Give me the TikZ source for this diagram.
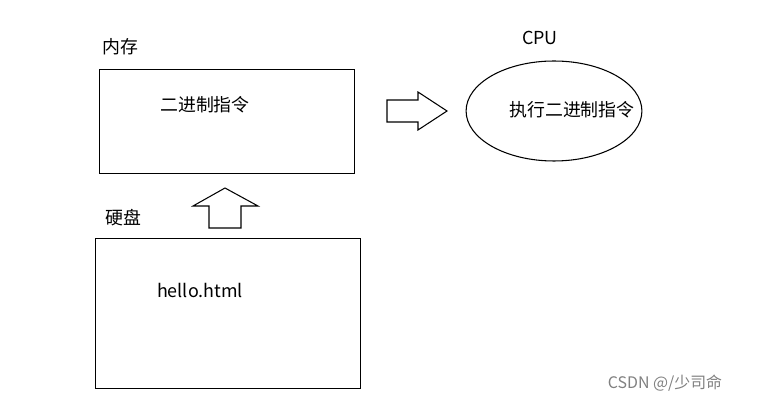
\documentclass[tikz,border=0pt]{standalone}
\usepackage{fontspec}
\setmainfont{Noto Sans CJK SC}
\usetikzlibrary{shapes.geometric}
\begin{document}
\begin{tikzpicture}[x=0.0265cm, y=-0.0265cm,
    box/.style={draw, thick, rectangle, anchor=north west},
    fat arrow/.style={draw, thick, line join=miter},
    lbl/.style={font=\fontsize{13.5}{16}\selectfont}]
    \useasboundingbox (0,0) rectangle (763,403);
    \node[box, minimum width=6.77cm, minimum height=2.75cm] (mem) at (99,69) {};
    \node[lbl] (memlbl) at (120,47) {内存};
    \node[lbl] (memtxt) at (205,105) {二进制指令};
    % right arrow
    \draw[fat arrow] (387,100) -- (418,100) -- (418,92) -- (447,111) -- (418,130) -- (418,122) -- (387,122) -- cycle;
    \node[draw, thick, ellipse, minimum width=4.66cm, minimum height=2.65cm] (cpu) at (554,111) {};
    \node[lbl] (cputxt) at (572,110) {执行二进制指令};
    \node[lbl] (cpulbl) at (540,38) {CPU};
    % up arrow
    \draw[fat arrow] (209,228) -- (209,206) -- (193,206) -- (225,188) -- (258,206) -- (241,206) -- (241,228) -- cycle;
    \node[lbl] (disklbl) at (123,218) {硬盘};
    \node[box, minimum width=7.02cm, minimum height=3.97cm] (disk) at (95,238) {};
    \node[lbl] (disktxt) at (200,290) {hello.html};
    \node[font=\fontsize{12}{14}\selectfont, text=gray] (mark) at (665,383) {CSDN @/少司命};
\end{tikzpicture}
\end{document}
